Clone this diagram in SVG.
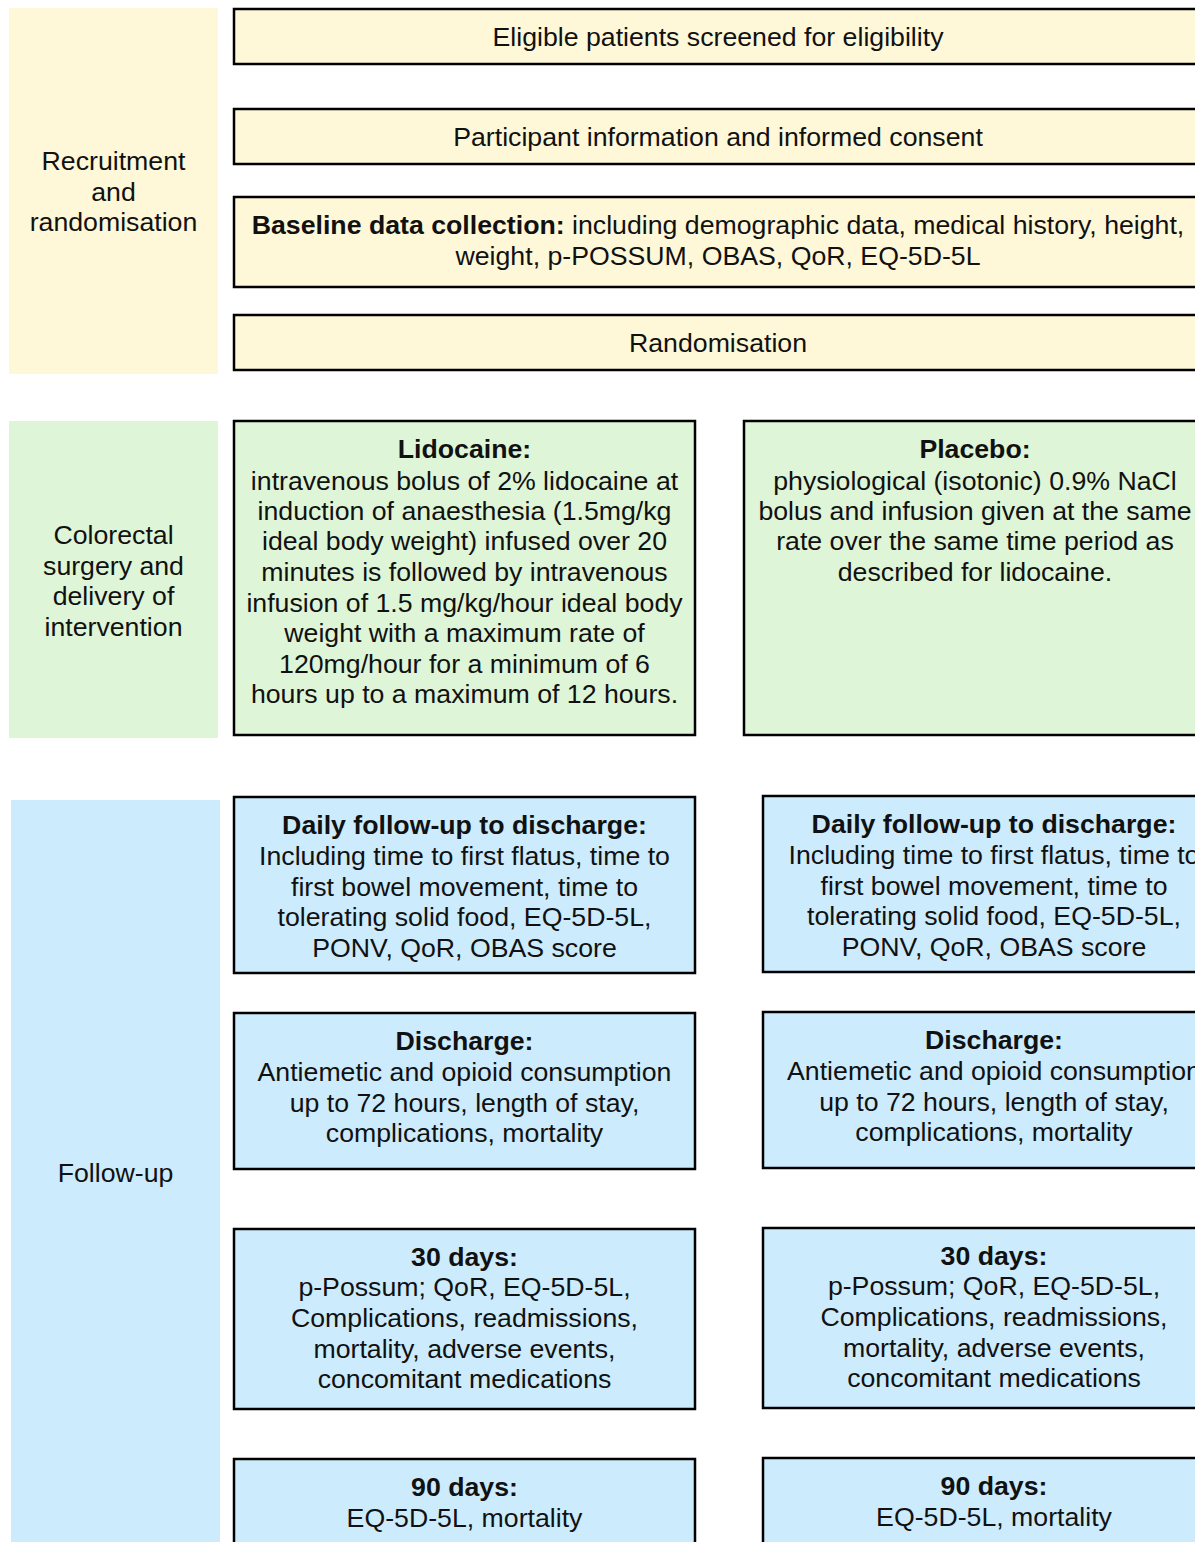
<svg xmlns="http://www.w3.org/2000/svg" width="1195" height="1542" viewBox="0 0 1195 1542">
<style>
text{font-family:"Liberation Sans",Arial,sans-serif;font-size:26.7px;fill:#111;text-anchor:middle}
.b{font-weight:bold}
.box{stroke:#000;stroke-width:2.5}
.y{fill:#FEF8D8}.g{fill:#DFF5D7}.c{fill:#CCEBFD}
</style>
<rect width="1195" height="1542" fill="#fff"/>
<g id="band-recruitment"><rect class="y" x="9" y="8" width="209" height="366"/>
<text x="113.5" y="170">Recruitment</text><text x="113.5" y="201">and</text><text x="113.5" y="231">randomisation</text></g>
<g id="band-surgery"><rect class="g" x="9" y="421" width="209" height="317"/>
<text x="113.5" y="544">Colorectal</text><text x="113.5" y="575">surgery and</text><text x="113.5" y="605">delivery of</text><text x="113.5" y="636">intervention</text></g>
<g id="band-followup"><rect class="c" x="11" y="800" width="209" height="750"/>
<text x="115.5" y="1182">Follow-up</text></g>

<g id="screened"><rect class="box y" x="234" y="9" width="968" height="55"/><text x="718" y="46">Eligible patients screened for eligibility</text></g>
<g id="consent"><rect class="box y" x="234" y="109" width="968" height="55"/><text x="718" y="146">Participant information and informed consent</text></g>
<g id="baseline"><rect class="box y" x="234" y="197" width="968" height="90"/>
<text x="718" y="234"><tspan class="b">Baseline data collection:</tspan> including demographic data, medical history, height,</text>
<text x="718" y="265">weight, p-POSSUM, OBAS, QoR, EQ-5D-5L</text></g>
<g id="randomisation"><rect class="box y" x="234" y="315" width="968" height="55"/><text x="718" y="352">Randomisation</text></g>

<g id="lidocaine"><rect class="box g" x="234" y="421" width="461" height="314"/>
<text class="b" x="464.5" y="458">Lidocaine:</text>
<text x="464.5" y="490">intravenous bolus of 2% lidocaine at</text>
<text x="464.5" y="520">induction of anaesthesia (1.5mg/kg</text>
<text x="464.5" y="550">ideal body weight) infused over 20</text>
<text x="464.5" y="581">minutes is followed by intravenous</text>
<text x="464.5" y="612">infusion of 1.5 mg/kg/hour ideal body</text>
<text x="464.5" y="642">weight with a maximum rate of</text>
<text x="464.5" y="673">120mg/hour for a minimum of 6</text>
<text x="464.5" y="703">hours up to a maximum of 12 hours.</text></g>
<g id="placebo"><rect class="box g" x="744" y="421" width="462" height="314"/>
<text class="b" x="975" y="458">Placebo:</text>
<text x="975" y="490">physiological (isotonic) 0.9% NaCl</text>
<text x="975" y="520">bolus and infusion given at the same</text>
<text x="975" y="550">rate over the same time period as</text>
<text x="975" y="581">described for lidocaine.</text></g>

<g id="daily-lido"><rect class="box c" x="234" y="797" width="461" height="176"/>
<text class="b" x="464.5" y="834">Daily follow-up to discharge:</text>
<text x="464.5" y="865">Including time to first flatus, time to</text>
<text x="464.5" y="896">first bowel movement, time to</text>
<text x="464.5" y="926">tolerating solid food, EQ-5D-5L,</text>
<text x="464.5" y="957">PONV, QoR, OBAS score</text></g>
<g id="daily-placebo"><rect class="box c" x="763" y="796" width="462" height="176"/>
<text class="b" x="994" y="833">Daily follow-up to discharge:</text>
<text x="994" y="864">Including time to first flatus, time to</text>
<text x="994" y="895">first bowel movement, time to</text>
<text x="994" y="925">tolerating solid food, EQ-5D-5L,</text>
<text x="994" y="956">PONV, QoR, OBAS score</text></g>

<g id="discharge-lido"><rect class="box c" x="234" y="1013" width="461" height="156"/>
<text class="b" x="464.5" y="1050">Discharge:</text>
<text x="464.5" y="1081">Antiemetic and opioid consumption</text>
<text x="464.5" y="1112">up to 72 hours, length of stay,</text>
<text x="464.5" y="1142">complications, mortality</text></g>
<g id="discharge-placebo"><rect class="box c" x="763" y="1012" width="462" height="156"/>
<text class="b" x="994" y="1049">Discharge:</text>
<text x="994" y="1080">Antiemetic and opioid consumption</text>
<text x="994" y="1111">up to 72 hours, length of stay,</text>
<text x="994" y="1141">complications, mortality</text></g>

<g id="day30-lido"><rect class="box c" x="234" y="1229" width="461" height="180"/>
<text class="b" x="464.5" y="1266">30 days:</text>
<text x="464.5" y="1296">p-Possum; QoR, EQ-5D-5L,</text>
<text x="464.5" y="1327">Complications, readmissions,</text>
<text x="464.5" y="1358">mortality, adverse events,</text>
<text x="464.5" y="1388">concomitant medications</text></g>
<g id="day30-placebo"><rect class="box c" x="763" y="1228" width="462" height="180"/>
<text class="b" x="994" y="1265">30 days:</text>
<text x="994" y="1295">p-Possum; QoR, EQ-5D-5L,</text>
<text x="994" y="1326">Complications, readmissions,</text>
<text x="994" y="1357">mortality, adverse events,</text>
<text x="994" y="1387">concomitant medications</text></g>

<g id="day90-lido"><rect class="box c" x="234" y="1459" width="461" height="120"/>
<text class="b" x="464.5" y="1496">90 days:</text>
<text x="464.5" y="1527">EQ-5D-5L, mortality</text></g>
<g id="day90-placebo"><rect class="box c" x="763" y="1458" width="462" height="120"/>
<text class="b" x="994" y="1495">90 days:</text>
<text x="994" y="1526">EQ-5D-5L, mortality</text></g>
<g id="connectors"/>
</svg>
